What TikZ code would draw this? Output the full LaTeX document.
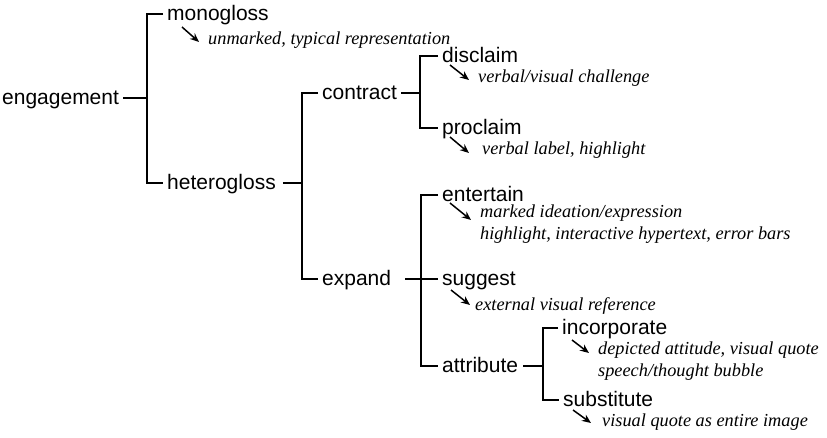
\documentclass[tikz,border=0pt]{standalone}
\usepackage{fontspec}
\usetikzlibrary{calc,arrows.meta}
\newfontfamily\lblfont{Liberation Sans}
\newfontfamily\descfont{Liberation Serif}
\begin{document}
\begin{tikzpicture}[x=1pt,y=-1pt,
  term/.style={font=\lblfont\fontsize{21}{25}\selectfont, anchor=west,
    inner xsep=4pt, inner ysep=0pt, text height=13pt, text depth=0pt},
  gloss/.style={font=\descfont\itshape\fontsize{18.3}{21.5}\selectfont,
    anchor=base west, inner sep=0pt},
  tree/.style={line width=2pt, line join=miter},
  pointer/.style={line width=1.5pt, -{Stealth[length=9pt,width=7.5pt]}}]
\fill[white] (0,0) rectangle (827,437);
\useasboundingbox (0,0) rectangle (827,437);

% system terms
\node[term] (engagement)  at (-2,98)  {engagement};
\node[term] (monogloss)   at (163,14) {monogloss};
\node[term] (heterogloss) at (163,183) {heterogloss};
\node[term] (contract)    at (318,93) {contract};
\node[term] (expand)      at (318,279) {expand};
\node[term] (disclaim)    at (438,56) {disclaim};
\node[term] (proclaim)    at (438,128) {proclaim};
\node[term] (entertain)   at (438,195) {entertain};
\node[term] (suggest)     at (438,279) {suggest};
\node[term] (attribute)   at (438,366) {attribute};
\node[term] (incorporate) at (558,328) {incorporate};
\node[term] (substitute)  at (559,400) {substitute};

% realisations
\node[gloss] (monoG)      at (208,44.5)  {unmarked, typical representation};
\node[gloss] (disclaimG)  at (478,82.5)  {verbal/visual challenge};
\node[gloss] (proclaimG)  at (482,154.5) {verbal label, highlight};
\node[gloss] (entertainG) at (480,217.5) {\begin{tabular}[t]{@{}l@{}}marked ideation/expression\\highlight, interactive hypertext, error bars\end{tabular}};
\node[gloss] (suggestG)   at (475,310)   {external visual reference};
\node[gloss] (incorporateG) at (598,354.5) {\begin{tabular}[t]{@{}l@{}}depicted attitude, visual quote\\speech/thought bubble\end{tabular}};
\node[gloss] (substituteG) at (602,426.5) {visual quote as entire image};

% brackets
\coordinate (b1) at (147,98);
\coordinate (b2) at (302,183);
\coordinate (b3) at (420,93);
\coordinate (b4) at (421,279);
\coordinate (b5) at (543,366);

\draw[tree] (engagement.east) -- (b1);
\draw[tree] (monogloss.west) -| (b1) |- (heterogloss.west);
\draw[tree] ([xshift=3pt]heterogloss.east) -- (b2);
\draw[tree] (contract.west) -| (b2) |- (expand.west);
\draw[tree] (contract.east) -- (b3);
\draw[tree] (disclaim.west) -| (b3) |- (proclaim.west);
\draw[tree] ([xshift=10pt]expand.east) -- (suggest.west);
\draw[tree] (entertain.west) -| (b4) |- (attribute.west);
\draw[tree] ([xshift=1pt]attribute.east) -- (b5);
\draw[tree] (incorporate.west) -| (b5) |- (substitute.west);

% pointers to realisations
\draw[pointer] ($(monogloss.west)+(19,13)$) -- ($(monoG.base west)+(-9,-2.5)$);
\draw[pointer] ($(disclaim.west)+(12,9)$) -- ($(disclaimG.base west)+(-9,-2.5)$);
\draw[pointer] ($(proclaim.west)+(12,9)$) -- ($(proclaimG.base west)+(-13,-1.5)$);
\draw[pointer] ($(entertain.west)+(12,8)$) -- ($(entertainG.base west)+(-9,2.5)$);
\draw[pointer] ($(suggest.west)+(13,11)$) -- ($(suggestG.base west)+(-5,-5)$);
\draw[pointer] ($(incorporate.west)+(14,12)$) -- ($(incorporateG.base west)+(-9,-1.5)$);
\draw[pointer] ($(substitute.west)+(14,10)$) -- ($(substituteG.base west)+(-11,-3.5)$);
\end{tikzpicture}
\end{document}
